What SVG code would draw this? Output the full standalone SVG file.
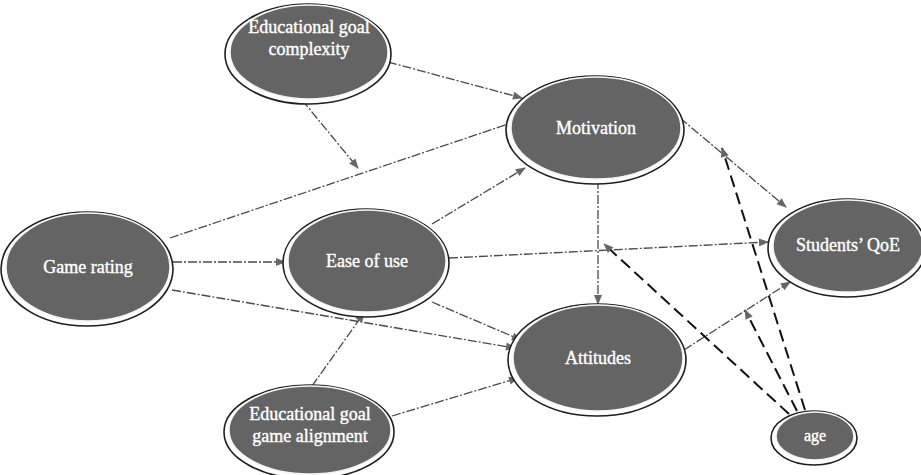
<svg xmlns="http://www.w3.org/2000/svg" width="921" height="475" viewBox="0 0 921 475">
<style>
.rim{fill:#fff;stroke:#1e1e1e;stroke-width:1.6}
.body{fill:#646464;stroke:#f4f4f4;stroke-width:1.5}
.lbl{font-family:"Liberation Serif","DejaVu Serif",serif;font-size:18px;font-weight:normal;fill:#fff;stroke:#fff;stroke-width:0.4;text-anchor:middle}
.c{fill:none;stroke:#4a4a4a;stroke-width:1.3;stroke-dasharray:9 2 2 2}
.d{fill:none;stroke:#111;stroke-width:2;stroke-dasharray:12 6}
</style>
<defs>
<marker id="ah" viewBox="0 0 10 10" refX="9" refY="5" markerWidth="13" markerHeight="10" markerUnits="userSpaceOnUse" orient="auto">
<path d="M0,1 L10,5 L0,9 z" fill="#666"/>
</marker>
</defs>
<rect width="921" height="475" fill="#fff"/>
<g id="connectors">
<line class="c" x1="388" y1="62" x2="522" y2="98" marker-end="url(#ah)"/>
<line class="c" x1="302" y1="100" x2="358" y2="168" marker-end="url(#ah)"/>
<line class="c" x1="170" y1="238" x2="520" y2="120" marker-end="url(#ah)"/>
<line class="c" x1="173" y1="262" x2="285" y2="262" marker-end="url(#ah)"/>
<line class="c" x1="172" y1="290" x2="515" y2="348" marker-end="url(#ah)"/>
<line class="c" x1="432" y1="224" x2="525" y2="168" marker-end="url(#ah)"/>
<line class="c" x1="449" y1="258" x2="768" y2="242" marker-end="url(#ah)"/>
<line class="c" x1="432" y1="302" x2="521" y2="340" marker-end="url(#ah)"/>
<line class="c" x1="312" y1="386" x2="364" y2="313" marker-end="url(#ah)"/>
<line class="c" x1="392" y1="416" x2="518" y2="378" marker-end="url(#ah)"/>
<line class="c" x1="680" y1="118" x2="786" y2="207" marker-end="url(#ah)"/>
<line class="c" x1="598" y1="180" x2="598" y2="304" marker-end="url(#ah)"/>
<line class="c" x1="684" y1="350" x2="790" y2="282" marker-end="url(#ah)"/>
<line class="d" x1="805" y1="410" x2="722" y2="148" marker-end="url(#ah)"/>
<line class="d" x1="797" y1="411" x2="745" y2="310" marker-end="url(#ah)"/>
<line class="d" x1="789" y1="414" x2="604" y2="244" marker-end="url(#ah)"/>
</g>
<g id="egc">
<ellipse class="rim" cx="308" cy="54" rx="83" ry="50"/>
<ellipse class="body" cx="309" cy="52" rx="79" ry="47"/>
<text class="lbl" x="309" y="33">Educational goal</text>
<text class="lbl" x="309" y="55">complexity</text>
</g>
<g id="motivation">
<ellipse class="rim" cx="595" cy="130" rx="89" ry="54"/>
<ellipse class="body" cx="596" cy="128" rx="85" ry="51"/>
<text class="lbl" x="596" y="134">Motivation</text>
</g>
<g id="game-rating">
<ellipse class="rim" cx="87" cy="269" rx="86" ry="57"/>
<ellipse class="body" cx="88" cy="267" rx="82" ry="54"/>
<text class="lbl" x="88" y="273">Game rating</text>
</g>
<g id="ease">
<ellipse class="rim" cx="366" cy="263" rx="83" ry="54"/>
<ellipse class="body" cx="367" cy="261" rx="79" ry="51"/>
<text class="lbl" x="367" y="267">Ease of use</text>
</g>
<g id="qoe">
<ellipse class="rim" cx="847" cy="248" rx="79" ry="49"/>
<ellipse class="body" cx="848" cy="246" rx="75" ry="46"/>
<text class="lbl" x="848" y="251">Students’ QoE</text>
</g>
<g id="attitudes">
<ellipse class="rim" cx="597" cy="360" rx="89" ry="56"/>
<ellipse class="body" cx="598" cy="358" rx="85" ry="53"/>
<text class="lbl" x="598" y="364">Attitudes</text>
</g>
<g id="egga">
<ellipse class="rim" cx="309" cy="432" rx="85" ry="47"/>
<ellipse class="body" cx="310" cy="430" rx="81" ry="44"/>
<text class="lbl" x="310" y="420">Educational goal</text>
<text class="lbl" x="310" y="442">game alignment</text>
</g>
<g id="age">
<ellipse class="rim" cx="814" cy="438" rx="43" ry="27"/>
<ellipse class="body" cx="815" cy="436" rx="39" ry="24"/>
<text class="lbl" x="815" y="441" style="font-size:16px">age</text>
</g>
</svg>
